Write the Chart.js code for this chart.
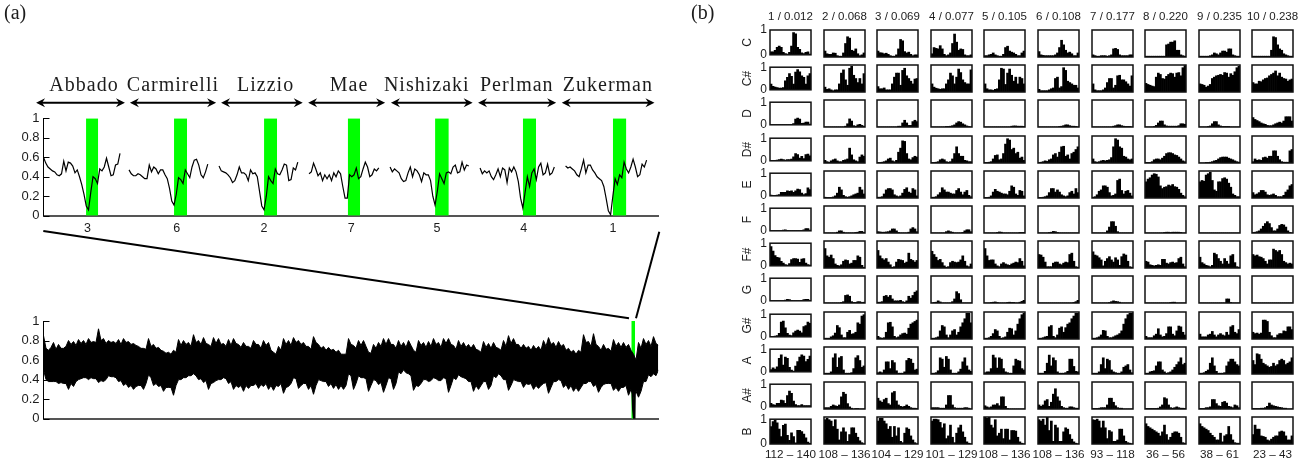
<!DOCTYPE html>
<html><head><meta charset="utf-8">
<style>html,body{margin:0;padding:0;background:#fff;overflow:hidden;width:1310px;height:466px}
canvas{position:absolute;display:block}</style>
<script src="https://cdn.jsdelivr.net/npm/chart.js@4"></script></head><body>
<script>
// ---------- panel (a), upper: seven performances ----------
const performers=["Abbado","Carmirelli","Lizzio","Mae","Nishizaki","Perlman","Zukerman"];
const rankLabels=["3","6","2","7","5","4","1"];
const rankTicks=[19.5,59.2,98,136.7,174.9,213.4,253.1];
const nameCentres=[18,57.5,98.7,135.8,170.3,210.3,250.8];
const arrowStarts=[-3.3,38.4,78.9,117.6,154.4,193.1,230.3];
const arrowEnds=[36.2,76.7,115.2,151.8,190.7,227.8,271.5];
const bandStarts=[18.9,58,98,135.2,174,213,253];
const bandEnds=[24.3,63.8,103.8,140.7,180.1,218.9,259];
const segStarts=[0,38,78,118,154,194,232];
const sAbbado=[.60,.54,.50,.48,.46,.45,.42,.41,.43,.56,.46,.55,.54,.51,.44,.47,.40,.32,.22,.10,.06,.24,.40,.38,.33,.48,.46,.50,.59,.50,.41,.42,.52,.53,.64];
const sCarmirelli=[.47,.43,.41,.41,.43,.42,.40,.38,.38,.52,.45,.50,.48,.43,.47,.47,.42,.38,.28,.15,.11,.22,.39,.37,.33,.47,.43,.39,.50,.57,.58,.52,.42,.39,.45,.53];
const sLizzio=[.51,.46,.45,.44,.42,.39,.34,.36,.42,.50,.44,.44,.42,.36,.47,.43,.44,.40,.25,.10,.06,.20,.40,.36,.33,.48,.43,.42,.47,.53,.52,.36,.37,.49,.47,.55];
const sMae=[.43,.45,.54,.48,.41,.44,.36,.42,.38,.42,.36,.44,.40,.46,.43,.30,.18,.18,.42,.40,.42,.49,.38,.40,.48,.55,.50,.40,.42,.48,.46,.49];
const sNishizaki=[.50,.45,.48,.46,.44,.38,.35,.36,.44,.50,.40,.48,.46,.42,.35,.44,.42,.42,.36,.20,.11,.25,.43,.38,.33,.44,.45,.43,.50,.52,.44,.45,.55,.47,.52,.51];
const sPerlman=[.49,.43,.46,.44,.46,.40,.37,.42,.48,.40,.49,.47,.34,.49,.45,.50,.45,.35,.18,.08,.24,.40,.30,.44,.48,.37,.50,.54,.42,.44,.53,.42,.44,.50];
const sZukerman=[.51,.49,.50,.48,.46,.42,.40,.48,.57,.44,.52,.52,.47,.44,.40,.38,.36,.30,.18,.05,.01,.20,.38,.32,.42,.39,.55,.48,.44,.50,.58,.50,.40,.42,.53,.50,.57];
const segments=[sAbbado,sCarmirelli,sLizzio,sMae,sNishizaki,sPerlman,sZukerman];

// ---------- panel (a), lower: whole-collection envelope (spike tips and solid body edge, read alternately) ----------
const highTips=[.85,.70,.78,.76,.72,.80,.79,.81,.80,.82,.79,.92,.82,.80,.79,.81,.82,.79,.77,.74,.72,.82,.76,.73,.69,.68,.70,.81,.80,.78,.86,.80,.83,.76,.83,.82,.77,.81,.82,.76,.78,.74,.80,.76,.80,.78,.68,.74,.82,.80,.83,.80,.78,.74,.84,.76,.74,.73,.71,.70,
.66,.82,.75,.80,.80,.68,.76,.78,.82,.82,.76,.80,.78,.80,.70,.80,.78,.79,.82,.78,.82,.82,.75,.80,.78,.76,.76,.70,.79,.77,.78,.72,.80,.85,.82,.76,.76,.74,.75,.74,.80,.83,.78,.79,.76,.72,.70,.70,.86,.79,.87,.74,.76,.72,.81,.78,.78,.76,.66,.78,.82,.80,.84,.75];
const highBody=[.72,.73,.71,.72,.74,.76,.75,.77,.76,.78,.78,.80,.77,.78,.77,.76,.78,.76,.75,.72,.71,.74,.72,.70,.67,.66,.68,.75,.76,.74,.78,.76,.77,.74,.77,.76,.74,.75,.77,.73,.74,.72,.76,.72,.75,.70,.66,.70,.76,.75,.78,.76,.74,.71,.78,.72,.70,.70,.68,.66,
.66,.76,.72,.75,.74,.67,.72,.74,.76,.76,.72,.74,.73,.75,.68,.75,.73,.74,.76,.73,.77,.76,.71,.74,.73,.72,.71,.68,.73,.72,.73,.70,.74,.77,.76,.72,.72,.70,.71,.70,.74,.76,.73,.74,.70,.68,.66,.68,.78,.74,.76,.70,.71,.69,.74,.73,.73,.70,.60,.72,.76,.74,.77];
const lowTips=[.50,.38,.38,.36,.36,.30,.33,.40,.42,.40,.41,.37,.38,.44,.43,.38,.34,.32,.30,.34,.30,.45,.34,.33,.28,.32,.24,.40,.42,.44,.46,.40,.37,.30,.37,.40,.42,.36,.30,.32,.28,.31,.34,.31,.33,.30,.29,.33,.26,.33,.42,.31,.36,.30,.25,.40,.38,.33,.31,.30,
.30,.46,.30,.44,.42,.28,.40,.35,.27,.42,.30,.48,.50,.46,.29,.33,.40,.38,.42,.39,.42,.27,.42,.45,.42,.38,.28,.30,.38,.30,.44,.46,.40,.29,.40,.38,.32,.35,.30,.31,.36,.26,.38,.40,.32,.30,.28,.28,.36,.38,.33,.27,.35,.36,.29,.28,.32,.24,.22,.22,.38,.45,.46,.50];
const lowBody=[.40,.38,.38,.37,.36,.36,.38,.41,.42,.42,.41,.39,.40,.43,.42,.39,.36,.34,.33,.34,.36,.42,.36,.34,.32,.32,.34,.40,.42,.44,.44,.41,.39,.36,.39,.40,.41,.38,.34,.34,.34,.34,.36,.35,.36,.34,.34,.36,.32,.36,.41,.34,.36,.34,.34,.39,.38,.36,.35,.34,
.34,.44,.36,.42,.41,.34,.39,.37,.34,.41,.36,.46,.47,.44,.34,.36,.40,.39,.41,.39,.41,.34,.40,.43,.41,.38,.34,.34,.38,.34,.42,.44,.40,.34,.39,.38,.36,.36,.34,.34,.37,.32,.38,.39,.35,.34,.32,.32,.36,.38,.35,.32,.36,.36,.32,.32,.34,.30,.28,.28,.38,.43,.44];
const dipX=[588.5,589.5,590.5,591,591.5];
const dipY=[.40,.10,0,.02,.40];
const zoomBand=[587.8,591.5];

// ---------- panel (b): chroma profile of each tone per rank (percent) ----------
const pitchLabels=["C","C#","D","D#","E","F","F#","G","G#","A","A#","B"];
const columnHeads=["1 / 0.012","2 / 0.068","3 / 0.069","4 / 0.077","5 / 0.105","6 / 0.108","7 / 0.177","8 / 0.220","9 / 0.235","10 / 0.238"];
const rangeLabels=["112 – 140","108 – 136","104 – 129","101 – 129","108 – 136","108 – 136","93 – 118","36 – 56","38 – 61","23 – 43"];
const toneC=[[12,12,18,30,35,30,10,5,3,10,35,90,85,30,22,8,5,10,12,3],[22,12,10,10,15,14,5,3,3,15,50,75,70,25,22,30,12,5,8,15],[22,16,15,12,14,10,5,3,3,8,30,65,60,20,15,18,10,5,8,8],[12,35,32,30,42,30,10,5,8,15,50,85,55,25,30,28,8,5,5,8],[5,5,8,10,15,8,5,3,3,10,35,40,22,18,15,10,5,5,15,22],[20,8,6,5,5,5,5,5,8,15,35,62,45,25,15,18,12,5,5,15],[8,5,3,3,5,5,5,3,5,8,30,32,28,8,5,5,5,5,8,8],[3,3,3,3,3,3,3,3,3,3,45,48,55,55,60,25,25,8,5,3],[3,3,3,3,3,5,8,15,12,8,15,22,22,18,30,30,8,5,3,3],[3,3,3,3,3,3,3,3,3,25,75,72,45,30,25,12,8,5,3,3]];
const toneCs=[[25,15,12,10,8,8,10,40,55,72,60,25,78,90,80,62,55,25,62,72],[18,10,12,8,5,8,8,30,70,82,45,25,88,95,62,50,35,50,30,68],[20,12,12,15,8,8,8,30,55,70,70,25,80,88,60,50,40,30,48,50],[30,18,14,12,10,12,12,30,45,70,60,30,55,85,72,45,35,30,30,82],[30,12,8,8,6,10,12,45,88,85,28,70,85,62,40,55,30,55,50,30],[10,5,5,5,5,8,12,15,50,55,15,20,90,80,40,35,30,25,25,15],[30,8,5,5,5,8,15,35,50,50,15,25,60,62,45,45,38,30,22,60],[32,28,25,22,20,55,70,65,50,48,58,65,70,68,55,70,72,60,90,98],[30,28,25,18,22,28,50,55,60,62,65,62,72,70,55,68,62,75,90,95],[35,30,30,40,38,45,50,52,60,65,70,78,60,70,55,50,48,40,45,48]];
const toneD=[[0,0,0,0,0,0,0,0,0,0,2,5,25,30,25,6,8,12,12,3],[0,0,0,0,0,0,0,0,0,0,3,12,30,22,5,3,8,10,6,3],[0,0,0,0,0,0,0,0,0,0,3,3,15,25,15,6,6,20,25,20],[0,0,0,0,0,0,0,2,2,3,5,8,15,20,18,12,8,4,2,0],[0,0,0,0,0,0,0,0,0,0,0,0,0,3,4,4,3,3,3,2],[0,0,0,0,0,0,0,0,0,0,2,3,5,8,8,5,3,3,2,0],[0,0,0,0,0,0,0,0,0,0,3,5,8,8,5,3,2,2,2,0],[0,0,0,0,2,6,15,22,22,8,4,3,3,3,3,3,5,12,12,10],[0,0,0,0,2,4,12,20,20,8,4,2,2,2,2,0,0,0,0,0],[35,28,24,20,15,12,10,6,5,5,8,12,15,18,15,22,38,38,38,22]];
const toneDs=[[2,2,2,3,5,8,5,3,5,5,8,18,32,28,12,20,10,28,30,22],[10,5,3,8,12,15,8,5,5,10,12,15,55,30,12,8,5,22,30,25],[2,2,3,5,8,15,18,8,5,10,40,55,82,80,35,15,12,20,25,22],[2,2,3,5,12,15,12,5,3,5,15,35,60,35,25,25,10,8,5,5],[2,2,3,5,15,28,30,12,15,35,70,90,85,50,55,35,40,18,22,10],[2,3,5,8,6,12,15,30,35,22,40,60,62,25,30,15,35,40,50,60],[15,5,3,5,8,10,8,10,12,20,60,90,85,60,55,25,22,15,12,15],[2,2,2,5,12,15,15,12,18,25,35,38,38,35,30,28,22,15,8,5],[0,0,0,2,2,3,5,8,10,15,20,22,22,22,18,15,12,8,5,3],[5,15,10,12,10,20,22,18,25,25,45,45,25,12,5,3,3,3,45,50]];
const toneE=[[3,2,2,3,5,15,15,15,22,20,22,15,22,30,28,12,5,10,35,28],[3,2,2,2,4,8,18,40,30,10,5,3,5,8,12,15,18,40,30,15],[3,3,5,15,30,35,35,30,12,8,5,8,18,32,38,22,18,35,30,8],[3,3,5,12,20,38,30,22,22,18,15,15,28,35,22,12,22,28,10,5],[2,2,3,8,22,32,25,22,18,15,15,12,25,45,40,15,10,28,25,8],[2,2,3,5,8,20,35,35,22,30,22,12,8,5,8,20,25,15,35,20],[3,5,12,25,30,45,45,40,20,8,10,15,65,70,28,15,25,28,18,8],[60,70,75,85,90,88,78,45,35,40,42,48,45,50,42,40,32,18,10,5],[60,65,62,85,90,95,65,30,25,60,60,72,75,70,55,40,15,10,5,5],[20,12,15,20,28,28,22,12,10,12,15,10,5,5,5,10,22,30,45,50]];
const toneF=[[0,0,0,0,0,0,3,4,2,0,0,0,0,0,0,0,4,10,10,3],[0,0,0,0,0,0,3,8,8,3,0,0,0,0,0,2,3,6,6,2],[5,4,3,3,4,5,8,15,15,8,2,0,0,0,0,3,15,20,15,5],[0,0,0,0,0,0,0,5,8,5,3,0,0,0,0,2,8,12,12,5],[0,0,0,0,0,0,2,4,3,0,0,0,0,0,0,0,0,2,2,2],[0,0,0,0,0,2,3,6,5,2,0,0,0,0,0,0,0,0,0,0],[0,0,0,0,0,0,0,8,22,42,42,25,5,0,0,0,0,0,0,0],[0,0,0,0,0,0,0,0,0,2,3,3,2,3,3,3,3,2,0,0],[0,0,0,0,0,0,0,0,0,0,0,0,0,0,0,0,0,0,0,0],[2,3,5,8,15,25,35,42,35,20,8,8,15,28,32,30,22,8,2,0]];
const toneFs=[[85,65,45,38,35,20,12,5,3,10,28,32,32,30,15,30,32,12,5,3],[72,45,40,48,35,15,10,8,12,25,30,28,15,18,28,28,45,40,10,3],[65,45,35,30,35,22,12,3,5,22,32,30,28,18,22,55,32,28,22,28],[62,50,40,28,32,20,8,3,5,20,25,22,20,22,30,45,25,8,5,15],[72,45,28,30,30,15,8,5,15,20,15,12,10,15,18,22,20,35,25,8],[50,48,40,22,5,5,5,18,22,22,15,12,18,22,20,50,55,25,5,3],[60,48,45,38,30,8,25,35,42,30,22,38,30,10,42,52,48,25,5,3],[25,22,12,10,8,10,12,10,32,32,18,15,20,22,18,20,35,40,15,5],[40,20,15,10,8,5,10,55,50,35,25,15,35,25,15,45,50,20,5,3],[50,45,48,42,40,35,25,15,30,30,70,65,60,65,50,25,20,15,18,15]];
const toneG=[[0,0,0,0,0,0,0,3,6,5,2,0,0,0,0,2,5,6,6,2],[0,0,0,0,0,0,0,0,2,5,28,30,25,5,2,2,5,5,2,3],[3,3,5,25,28,22,28,15,8,8,8,10,5,3,8,25,18,28,40,45],[0,2,3,8,4,0,0,0,0,0,5,15,42,35,12,0,0,0,0,0],[0,0,0,2,3,4,2,0,0,0,0,2,3,2,2,0,0,3,6,10],[0,0,0,0,0,0,0,0,0,0,0,0,0,0,0,0,0,2,5,10],[0,0,0,0,0,0,0,0,2,5,8,6,5,3,0,0,0,0,0,0],[0,0,0,0,0,0,0,0,0,0,0,0,2,3,3,0,0,0,0,0],[0,0,0,0,0,0,0,0,0,0,0,0,0,15,15,2,0,0,0,0],[0,0,0,0,0,0,0,0,0,0,0,0,0,0,0,0,0,0,0,0]];
const toneGs=[[2,2,3,5,15,65,70,40,15,8,5,18,25,30,25,18,45,50,65,60],[3,3,3,8,12,22,50,42,15,5,5,25,32,18,20,25,60,55,85,90],[10,5,3,5,25,60,62,45,10,5,8,15,20,22,18,40,55,60,65,70],[3,3,5,8,30,50,45,15,5,15,30,35,15,25,45,60,75,95,95,60],[3,3,5,10,20,35,30,10,3,5,8,25,40,38,15,30,55,75,90,95],[3,3,5,8,10,45,50,10,5,15,40,45,25,42,55,60,75,85,95,95],[3,3,5,8,15,32,30,10,5,5,8,12,15,20,30,55,75,90,95,95],[10,5,5,5,12,18,38,15,8,10,20,45,45,18,12,30,48,45,25,15],[18,8,8,8,15,18,28,15,8,15,20,15,12,25,15,45,50,25,20,35],[25,20,22,18,22,70,70,65,25,12,5,5,15,20,20,30,28,45,45,35]];
const toneA=[[10,18,12,22,60,75,30,65,60,20,8,3,25,45,65,75,70,45,55,70],[3,3,3,8,60,75,25,60,65,15,3,3,3,5,20,60,68,50,25,30],[5,8,5,15,45,45,20,50,42,12,3,3,3,8,50,58,55,40,15,18],[3,3,5,12,60,55,25,65,55,15,3,3,3,8,18,45,60,30,15,10],[5,8,8,20,70,60,22,60,55,20,8,5,3,3,30,55,50,48,20,15],[3,3,3,10,40,70,30,60,50,8,3,3,3,5,10,55,55,28,10,8],[3,3,3,8,35,60,20,55,50,15,8,5,3,3,8,25,30,35,15,5],[3,3,8,10,12,30,45,45,15,8,3,5,8,15,25,35,45,60,35,40],[3,3,5,10,15,40,60,30,10,3,3,3,5,30,45,55,55,45,35,30],[50,35,75,72,55,40,35,30,25,28,40,30,35,50,55,50,35,40,45,60]];
const toneAs=[[15,10,8,15,15,30,28,15,50,70,60,25,10,5,5,10,5,5,5,5],[5,5,5,10,15,12,10,15,45,62,55,20,8,3,0,2,2,0,0,0],[40,30,25,35,40,20,15,60,65,30,15,10,8,10,15,10,5,3,3,2],[5,5,5,5,3,3,3,15,50,50,15,5,3,3,3,3,5,5,3,0],[12,8,5,8,15,15,20,12,45,45,10,2,0,0,0,0,0,0,0,0],[15,10,15,30,35,10,25,55,75,45,30,10,5,3,3,8,8,5,3,3],[2,2,2,3,5,5,5,15,40,40,25,12,5,3,3,0,0,0,0,0],[2,2,2,2,2,2,3,8,15,42,38,15,5,3,5,8,5,3,3,2],[2,2,2,5,5,8,35,35,20,12,10,25,28,22,10,8,5,15,12,5],[2,2,2,2,3,3,5,10,22,15,12,10,8,6,5,3,3,0,0,0]];
const toneB=[[70,90,95,85,60,30,75,80,35,15,45,30,5,55,55,50,40,25,8,3],[90,95,90,85,65,90,55,15,45,60,45,10,35,60,60,40,25,12,5,0],[85,95,95,85,75,55,65,25,65,30,60,10,5,40,60,55,30,15,5,0],[85,92,92,90,80,60,75,20,30,70,25,5,40,60,70,45,25,8,3,0],[100,95,100,70,60,90,30,40,55,20,55,55,15,50,50,48,25,8,3,0],[90,85,92,70,100,50,85,10,70,60,10,10,45,60,55,35,18,8,3,0],[90,88,92,85,60,85,60,20,50,45,10,10,15,55,55,30,10,5,3,0],[75,65,60,55,50,45,40,30,45,70,35,15,25,40,45,45,40,25,5,3],[75,65,60,55,50,40,32,25,15,15,40,8,30,35,65,35,15,5,3,3],[35,70,55,55,30,28,25,15,12,18,25,30,30,45,48,45,30,15,15,30]];
const toneRows=[toneC,toneCs,toneD,toneDs,toneE,toneF,toneFs,toneG,toneGs,toneA,toneAs,toneB];

// ---------- drawing ----------
const SANS='"Liberation Sans"', SERIF='"Liberation Serif"', INK='#1c1c1c';
Chart.defaults.animation=false;
Chart.defaults.responsive=false;
Chart.defaults.devicePixelRatio=1;
Chart.defaults.plugins.legend.display=false;
Chart.defaults.plugins.tooltip.enabled=false;
Chart.defaults.elements.point.radius=0;

function addCanvas(l,t,w,h){
  const c=document.createElement('canvas');
  c.width=w;c.height=h;c.style.left=l+'px';c.style.top=t+'px';c.style.width=w+'px';c.style.height=h+'px';
  document.body.appendChild(c);return c;
}
const fixW=w=>s=>{s.width=w}, fixH=h=>s=>{s.height=h};
const noGrid={display:false,drawTicks:false};
const plainNumber=v=>String(+(+v).toFixed(1));
const inwardTicks={id:'inwardTicks',afterDraw(ch){
  const {ctx,scales:{y},chartArea:a}=ch;ctx.save();ctx.strokeStyle='#000';ctx.lineWidth=1;
  y.ticks.forEach(t=>{const p=Math.round(y.getPixelForValue(t.value))+.5;ctx.beginPath();ctx.moveTo(a.left,p);ctx.lineTo(a.left+6,p);ctx.stroke()});
  ctx.restore()}};
function yAxis(){return {min:0,max:1,afterFit:fixW(38),grid:noGrid,border:{display:true,color:'#000',width:1},
  ticks:{stepSize:.2,padding:4,color:INK,font:{family:SANS,size:13},callback:plainNumber}}}

// upper panel
const upperLine=segments.flatMap((s,k)=>[...s.map((v,i)=>({x:segStarts[k]+i,y:v})),{x:segStarts[k]+s.length,y:null}]);
const upperBands=bandStarts.flatMap((s,k)=>[{x:s,y:1},{x:bandEnds[k],y:1},{x:bandEnds[k],y:null}]);
const upperDecor={id:'upperDecor',afterDraw(ch){
  const {ctx,scales:{x}}=ch;ctx.save();ctx.fillStyle=INK;ctx.textAlign='center';ctx.textBaseline='alphabetic';
  ctx.font='20px '+SERIF;ctx.letterSpacing='1px';
  performers.forEach((n,i)=>ctx.fillText(n,x.getPixelForValue(nameCentres[i]),90.5));
  ctx.letterSpacing='0px';ctx.textAlign='left';ctx.fillText('(a)',4,19);ctx.fillText('(b)',691,19);
  const Y=102.7;ctx.strokeStyle='#000';ctx.fillStyle='#000';ctx.lineWidth=2;
  arrowStarts.forEach((s,i)=>{const a=x.getPixelForValue(s),b=x.getPixelForValue(arrowEnds[i]);
    ctx.beginPath();ctx.moveTo(a+3,Y);ctx.lineTo(b-3,Y);ctx.stroke();
    [[a,1],[b,-1]].forEach(([t,d])=>{ctx.beginPath();ctx.moveTo(t,Y);ctx.lineTo(t+d*9,Y-4.5);ctx.lineTo(t+d*6,Y);ctx.lineTo(t+d*9,Y+4.5);ctx.closePath();ctx.fill()})});
  ctx.restore()}};
new Chart(addCanvas(0,0,730,240),{type:'line',
  data:{datasets:[
    {data:upperLine,borderColor:'#000',borderWidth:1.2,order:1,tension:0},
    {data:upperBands,borderWidth:0,borderColor:'rgba(0,0,0,0)',backgroundColor:'#00ff00',fill:'origin',order:2}]},
  options:{layout:{padding:{left:5.5,right:730-658.3,top:118.3,bottom:4.3}},
    scales:{
      x:{type:'linear',min:0,max:273.2,afterFit:fixH(20),grid:noGrid,border:{display:true,color:'#555',width:2},
        afterBuildTicks:s=>{s.ticks=rankTicks.map(v=>({value:v}))},
        ticks:{autoSkip:false,maxRotation:0,padding:5,color:INK,font:{family:SANS,size:12.5},callback:(v,i)=>rankLabels[i]}},
      y:yAxis()}},
  plugins:[inwardTicks,upperDecor]});

// lower panel
const stepX=2.5;
const zip=(a,b)=>a.flatMap((v,i)=>i<b.length?[v,b[i]]:[v]);
const envHigh=zip(highTips,highBody), envLow=zip(lowTips,lowBody);
const lowerConnect={id:'lowerConnect',afterDraw(ch){
  const {ctx,scales:{x}}=ch,top=225;ctx.save();ctx.strokeStyle='#000';ctx.lineWidth=2;
  const l=x.getPixelForValue(zoomBand[0]),r=x.getPixelForValue(zoomBand[1]);
  ctx.beginPath();ctx.moveTo(43.3,231-top);ctx.lineTo(l-2.3,318.3-top);ctx.stroke();
  ctx.beginPath();ctx.moveTo(659.3,231.7-top);ctx.lineTo(r+1,318.3-top);ctx.stroke();
  ctx.restore()}};
new Chart(addCanvas(0,225,690,215),{type:'line',
  data:{datasets:[
    {data:dipX.map((v,i)=>({x:v,y:dipY[i]})),borderColor:'#000',borderWidth:2,order:0},
    {data:envHigh.map((v,i)=>({x:i*stepX,y:v})),borderColor:'#000',borderWidth:1,backgroundColor:'#000',fill:'+1',order:1},
    {data:envLow.map((v,i)=>({x:i*stepX,y:v})),borderColor:'#000',borderWidth:1,order:1},
    {data:[{x:zoomBand[0],y:1},{x:zoomBand[1],y:1}],borderWidth:0,borderColor:'rgba(0,0,0,0)',backgroundColor:'#00ff00',fill:'origin',order:3}]},
  options:{layout:{padding:{left:5.5,right:690-658.3,top:96,bottom:21.3}},
    scales:{
      x:{type:'linear',min:0,max:614.8,afterFit:fixH(0),grid:noGrid,border:{display:true,color:'#555',width:2},ticks:{display:false}},
      y:yAxis()}},
  plugins:[inwardTicks,lowerConnect]});

// panel (b) small multiples
const binLabels=toneC[0].map((_,i)=>i);
const frame={id:'frame',afterDraw(ch){
  const {ctx,chartArea:a}=ch;const o=ch.options.plugins.frame;
  ctx.save();ctx.strokeStyle='#111';ctx.lineWidth=1.5;ctx.strokeRect(a.left,a.top,a.right-a.left,a.bottom-a.top);
  ctx.fillStyle=INK;ctx.textAlign='center';ctx.textBaseline='middle';
  if(o.head){ctx.font='11.5px '+SANS;ctx.fillText(o.head,(a.left+a.right)/2,a.top-13)}
  if(o.range){ctx.font='11.7px '+SANS;ctx.fillText(o.range,(a.left+a.right)/2,a.bottom+11)}
  if(o.pitch){ctx.font='12px '+SANS;ctx.translate(a.left-22,(a.top+a.bottom)/2);ctx.rotate(-Math.PI/2);ctx.fillText(o.pitch,0,0)}
  ctx.restore()}};
toneRows.forEach((row,r)=>row.forEach((vals,c)=>{
  const L=Math.round(770+53.6*c),T=Math.round(30+35.2*r);
  const axisW=c===0?14:0;
  const padL=c===0?32:8,padR=8,padT=r===0?20:8,padB=r===11?20:8,W=41,H=27;
  new Chart(addCanvas(L-padL,T-padT,W+padL+padR,H+padT+padB),{type:'bar',
    data:{labels:binLabels,datasets:[{data:vals.map(v=>v/100),backgroundColor:'#000',barPercentage:1,categoryPercentage:1,borderWidth:0}]},
    options:{layout:{padding:{left:padL-axisW,right:padR,top:padT,bottom:padB}},
      plugins:{frame:{head:r===0?columnHeads[c]:'',range:r===11?rangeLabels[c]:'',pitch:c===0?pitchLabels[r]:''}},
      scales:{
        x:{display:false},
        y:{display:c===0,min:0,max:1,afterFit:fixW(axisW),grid:noGrid,border:{display:false},
           ticks:{stepSize:1,padding:3,color:INK,font:{family:SANS,size:12}}}}},
    plugins:[frame]});
}));
</script></body></html>
